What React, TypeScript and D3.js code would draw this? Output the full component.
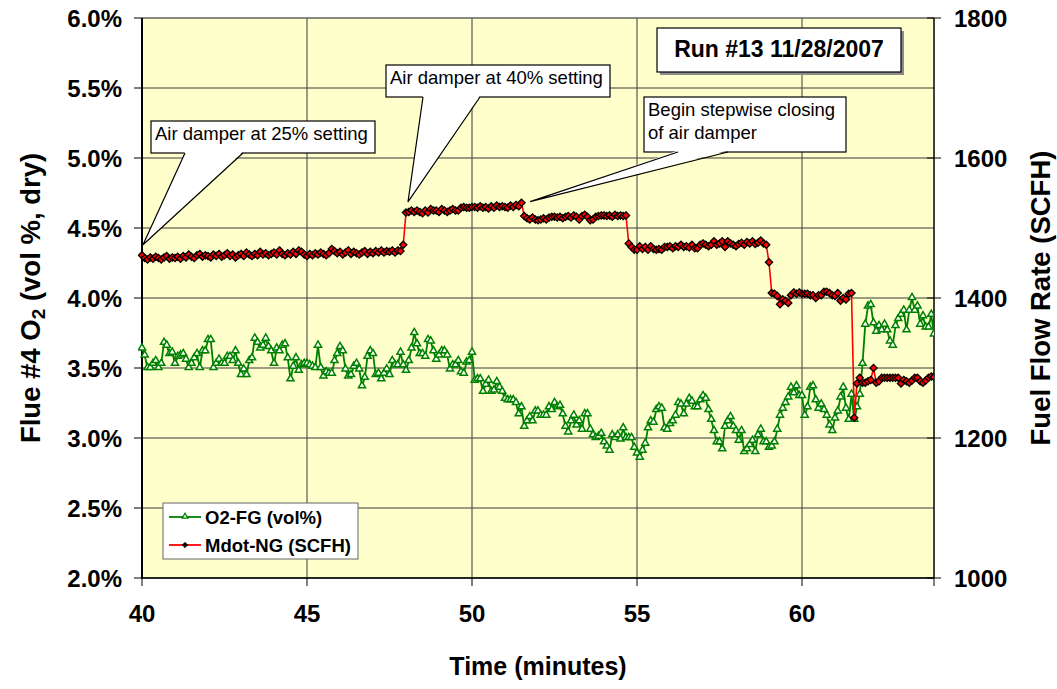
import React from "react";
import * as d3 from "d3";

// ---------- data ----------
const T_START = 40; // minutes
const T_STEP = 1 / 12; // 5-second samples

const O2_FG = [
  3.64, 3.59, 3.5, 3.5, 3.53, 3.55, 3.5, 3.53, 3.68, 3.66, 3.6, 3.61, 3.53, 3.58, 3.59, 3.6, 3.56, 3.5, 3.53, 3.57,
  3.6, 3.5, 3.62, 3.62, 3.7, 3.7, 3.5, 3.53, 3.56, 3.53, 3.53, 3.58, 3.58, 3.55, 3.62, 3.53, 3.45, 3.49, 3.45, 3.55,
  3.57, 3.71, 3.68, 3.64, 3.66, 3.71, 3.65, 3.62, 3.53, 3.64, 3.62, 3.66, 3.67, 3.57, 3.42, 3.51, 3.57, 3.48, 3.52, 3.53,
  3.53, 3.52, 3.51, 3.5, 3.66, 3.5, 3.44, 3.47,
  3.46, 3.46, 3.55, 3.6, 3.65, 3.62, 3.49, 3.44, 3.45, 3.51, 3.53, 3.49, 3.37, 3.43, 3.58, 3.62, 3.6, 3.45, 3.46, 3.42,
  3.46, 3.49, 3.45, 3.55, 3.52, 3.52, 3.61, 3.52, 3.48, 3.55, 3.64, 3.75, 3.67, 3.6, 3.6, 3.58, 3.7, 3.69, 3.62, 3.56,
  3.59, 3.62, 3.62, 3.59, 3.49, 3.52, 3.52, 3.55, 3.47, 3.46, 3.54, 3.55, 3.61, 3.41, 3.42, 3.42, 3.33, 3.38, 3.41, 3.33,
  3.34, 3.4, 3.36, 3.33, 3.28, 3.27, 3.27, 3.27, 3.25, 3.17, 3.22, 3.08,
  3.12, 3.15, 3.12, 3.19, 3.19, 3.16, 3.16, 3.16, 3.22, 3.2, 3.25, 3.22, 3.23, 3.17, 3.08, 3.04, 3.12, 3.16, 3.09, 3.12,
  3.06, 3.17, 3.17, 3.06, 3.02, 3.0, 3.01, 3.03, 2.97, 2.94, 2.91, 3.02, 3.0, 3.02, 2.99, 3.07, 3.0, 3.0, 3.0, 2.93,
  2.89, 2.86, 2.91, 2.96, 3.07, 3.12, 3.11, 3.2, 3.22, 3.21, 3.07, 3.06, 3.1, 3.12, 3.16, 3.25, 3.24, 3.17, 3.24, 3.28,
  3.26, 3.22, 3.22, 3.27, 3.3, 3.28, 3.2,
  3.13, 3.05, 2.97, 2.97, 2.92, 3.08, 3.12, 3.15, 3.08, 3.05, 2.98, 3.05, 2.9, 2.92, 2.95, 2.98, 2.9, 3.02, 3.06, 2.97,
  2.97, 2.93, 2.94, 2.97, 3.06, 3.16, 3.21, 3.25, 3.29, 3.36, 3.32, 3.37, 3.3, 3.3, 3.16, 3.22, 3.36, 3.37, 3.27, 3.21,
  3.24, 3.2, 3.16, 3.09, 3.05, 3.14, 3.19, 3.29, 3.36, 3.21, 3.13, 3.31, 3.13, 3.22, 3.31, 3.53, 3.81, 3.94, 3.95, 3.82,
  3.76, 3.8, 3.77, 3.81, 3.77, 3.69, 3.66, 3.8, 3.85, 3.88, 3.91, 3.77, 3.91, 4.0, 3.91, 3.94, 3.81, 3.87, 3.79, 3.79,
  3.88, 3.74, 3.95,
];

const MDOT_NG = [
  1461, 1457, 1455, 1458, 1456, 1459, 1457, 1455, 1458, 1460, 1456, 1458,
  1457, 1459, 1456, 1460, 1458, 1462, 1459, 1457, 1461, 1463, 1459, 1461,
  1460, 1458, 1462, 1460, 1463, 1459, 1461, 1464, 1460, 1462, 1458, 1461,
  1463, 1460, 1465, 1462, 1460, 1463, 1461, 1466, 1462, 1464, 1461, 1463,
  1465, 1462, 1468, 1463, 1461, 1464, 1462, 1466, 1463, 1468, 1466, 1462,
  1460, 1463, 1461, 1464, 1462, 1465, 1463, 1461, 1464, 1470, 1467, 1464,
  1466, 1462, 1465, 1468, 1463, 1466, 1464, 1462, 1465, 1467, 1463, 1466,
  1464, 1467, 1465, 1468, 1465, 1467, 1466, 1468, 1465, 1468, 1467, 1476,
  1522, 1523, 1525, 1523, 1525, 1523, 1521, 1525, 1522, 1527, 1525, 1525,
  1523, 1527, 1525, 1523, 1525, 1527, 1525, 1525, 1529, 1530, 1529, 1529,
  1530, 1530, 1529, 1531, 1529, 1530, 1528, 1531, 1529, 1532, 1530, 1531,
  1530, 1529, 1532, 1530, 1533, 1531, 1536,
  1517, 1514, 1512, 1515, 1512, 1511, 1512, 1514, 1512, 1515, 1516, 1516,
  1515, 1516, 1514, 1516, 1517, 1515, 1518, 1516, 1512, 1517, 1519, 1516,
  1511, 1512, 1516, 1517, 1518, 1518, 1517, 1518, 1516, 1519, 1517, 1518, 1517, 1518,
  1478,
  1473, 1469, 1469, 1474, 1470, 1473, 1469, 1474, 1470, 1469, 1470, 1469,
  1473, 1473, 1474, 1471, 1474, 1473, 1476, 1473, 1474, 1472, 1476, 1471,
  1471, 1476, 1478, 1476, 1474, 1476, 1481, 1476, 1478, 1481, 1473, 1481,
  1478, 1476, 1474, 1477, 1479, 1476, 1480, 1478, 1481, 1477, 1479, 1482, 1478, 1476,
  1451, 1407,
  1406, 1403, 1391, 1398, 1396, 1393, 1404, 1408, 1406, 1408, 1406, 1406,
  1406, 1404, 1404, 1400, 1404, 1404, 1409, 1409, 1407, 1404, 1403, 1407, 1396, 1400, 1398, 1406, 1407,
  1229, 1278,
  1286, 1279, 1279, 1281, 1283, 1300,
  1279, 1281, 1286, 1286, 1286, 1286, 1286, 1286, 1286, 1278, 1283, 1281, 1279, 1282, 1286, 1286, 1281, 1279,
  1282, 1286, 1288, 1287, 1286,
];

const X_TICKS = [40, 45, 50, 55, 60];
const LEFT_TICKS = [2.0, 2.5, 3.0, 3.5, 4.0, 4.5, 5.0, 5.5, 6.0];
const RIGHT_TICKS = [1000, 1200, 1400, 1600, 1800];
const SERIES_NAMES = ["O2-FG (vol%)", "Mdot-NG (SCFH)"];
const CHART_TITLE = "Run #13 11/28/2007";

// annotation tips in data units (time, O2 %)
const CALLOUTS = [
  { lines: ["Air damper at 25% setting"], tipT: 40.03, tipO2: 4.38, box: [151, 121, 224, 32], base: [185, 243] },
  { lines: ["Air damper at 40% setting"], tipT: 48.06, tipO2: 4.686, box: [386, 65, 224, 32], base: [423, 480] },
  { lines: ["Begin stepwise closing", "of air damper"], tipT: 51.76, tipO2: 4.688, box: [644, 97, 202, 55], base: [678, 728] },
];

// ---------- layout ----------
const W = 1057;
const H = 689;
const PL = 142;
const PR = 934;
const PT = 18;
const PB = 578;
const FONT = "'Liberation Sans', Arial, Helvetica, sans-serif";

export default function App() {
  const x = d3.scaleLinear().domain([40, 64]).range([PL, PR]);
  const yL = d3.scaleLinear().domain([2, 6]).range([PB, PT]);
  const yR = d3.scaleLinear().domain([1000, 1800]).range([PB, PT]);

  const o2Pts = O2_FG.map((v, i) => ({ t: T_START + i * T_STEP, v }));
  const mdPts = MDOT_NG.map((v, i) => ({ t: T_START + i * T_STEP, v }));

  const lineO2 = d3
    .line<{ t: number; v: number }>()
    .x((d) => x(d.t))
    .y((d) => yL(d.v));
  const lineMd = d3
    .line<{ t: number; v: number }>()
    .x((d) => x(d.t))
    .y((d) => yR(d.v));

  const tri = d3.symbol().type(d3.symbolTriangle).size(22)() as string;
  const diamond = "M0,-3.6L3.6,0L0,3.6L-3.6,0Z";

  const visible = (d: { t: number }) => d.t <= 64.001;

  return (
    <svg
      width={W}
      height={H}
      style={{ position: "absolute", left: 0, top: 0, background: "#fff" }}
      fontFamily={FONT}
    >
      <defs>
        <clipPath id="plotclip">
          <rect x={PL} y={PT} width={PR - PL} height={PB - PT} />
        </clipPath>
        <clipPath id="markclip">
          <rect x={PL - 4} y={PT} width={PR - PL + 4} height={PB - PT + 4} />
        </clipPath>
      </defs>

      {/* plot background */}
      <rect x={PL} y={PT} width={PR - PL} height={PB - PT} fill="#FFFFCC" />

      {/* gridlines */}
      {LEFT_TICKS.map((v) => (
        <line key={"hg" + v} x1={PL} x2={PR} y1={yL(v)} y2={yL(v)} stroke="#3a3a3a" strokeWidth={1.1} />
      ))}
      {X_TICKS.map((v) => (
        <line key={"vg" + v} x1={x(v)} x2={x(v)} y1={PT} y2={PB} stroke="#4a4a4a" strokeWidth={1.1} />
      ))}

      {/* plot border */}
      <line x1={PL} x2={PR} y1={PT} y2={PT} stroke="#777" strokeWidth={1} />
      <line x1={PR} x2={PR} y1={PT} y2={PB} stroke="#000" strokeWidth={1.5} />
      <line x1={PL} x2={PR} y1={PB} y2={PB} stroke="#000" strokeWidth={1.5} />
      <line x1={PL} x2={PL} y1={PT} y2={PB + 1} stroke="#000" strokeWidth={2} />

      {/* ticks */}
      {LEFT_TICKS.map((v) => (
        <line key={"lt" + v} x1={PL - 8} x2={PL} y1={yL(v)} y2={yL(v)} stroke="#000" strokeWidth={1} />
      ))}
      {X_TICKS.concat([64]).map((v) => (
        <line key={"xt" + v} x1={x(v)} x2={x(v)} y1={PB} y2={PB + 8} stroke="#000" strokeWidth={1} />
      ))}
      {RIGHT_TICKS.map((v) => (
        <line key={"rt" + v} x1={PR - 7} x2={PR + 7} y1={yR(v)} y2={yR(v)} stroke="#000" strokeWidth={1} />
      ))}

      {/* tick labels */}
      {LEFT_TICKS.map((v) => (
        <text key={"ll" + v} x={122} y={yL(v)} dy="0.36em" textAnchor="end" fontSize={24} fontWeight="bold">
          {v.toFixed(1) + "%"}
        </text>
      ))}
      {RIGHT_TICKS.map((v) => (
        <text key={"rl" + v} x={954} y={yR(v)} dy="0.36em" textAnchor="start" fontSize={24} fontWeight="bold">
          {String(v)}
        </text>
      ))}
      {X_TICKS.map((v) => (
        <text key={"xl" + v} x={x(v)} y={622} textAnchor="middle" fontSize={24} fontWeight="bold">
          {String(v)}
        </text>
      ))}

      {/* axis titles */}
      <text x={(PL + PR) / 2} y={675} textAnchor="middle" fontSize={25} fontWeight="bold">
        Time (minutes)
      </text>
      <text transform={`translate(40,${(PT + PB) / 2}) rotate(-90)`} textAnchor="middle" fontSize={27.5} fontWeight="bold">
        Flue #4 O
        <tspan fontSize={19} dy={5}>
          2
        </tspan>
        <tspan dy={-5}> (vol %, dry)</tspan>
      </text>
      <text transform={`translate(1050,${(PT + PB) / 2}) rotate(-90)`} textAnchor="middle" fontSize={27.5} fontWeight="bold">
        Fuel Flow Rate (SCFH)
      </text>

      {/* series */}
      <g clipPath="url(#plotclip)">
        <path d={lineO2(o2Pts) || ""} fill="none" stroke="#008000" strokeWidth={1.8} />
      </g>
      <g clipPath="url(#markclip)">
        {o2Pts.filter(visible).map((d, i) => (
          <path
            key={"o" + i}
            d={tri}
            transform={`translate(${x(d.t)},${yL(d.v) - 0.5})`}
            fill="#ffffff"
            stroke="#008000"
            strokeWidth={1.5}
          />
        ))}
      </g>
      <g clipPath="url(#plotclip)">
        <path d={lineMd(mdPts) || ""} fill="none" stroke="#FF0000" strokeWidth={1.6} />
      </g>
      <g clipPath="url(#markclip)">
        {mdPts.filter(visible).map((d, i) => (
          <path
            key={"m" + i}
            d={diamond}
            transform={`translate(${x(d.t)},${yR(d.v)})`}
            fill="#FF0000"
            stroke="#000"
            strokeWidth={1.3}
          />
        ))}
      </g>

      {/* callouts */}
      {CALLOUTS.map((c, i) => {
        const [bx, by, bw, bh] = c.box;
        const tx = x(c.tipT);
        const ty = yL(c.tipO2);
        const bottom = by + bh;
        return (
          <g key={"c" + i}>
            <rect x={bx} y={by} width={bw} height={bh} fill="#fff" stroke="#000" strokeWidth={1.2} />
            <polygon
              points={`${c.base[0]},${bottom - 1.5} ${tx},${ty} ${c.base[1]},${bottom - 1.5}`}
              fill="#fff"
              stroke="none"
            />
            <polyline
              points={`${c.base[0]},${bottom} ${tx},${ty} ${c.base[1]},${bottom}`}
              fill="none"
              stroke="#000"
              strokeWidth={1.2}
            />
            {c.lines.map((ln, j) => (
              <text key={j} x={bx + 4} y={by + 19 + j * 22.5} fontSize={18.5}>
                {ln}
              </text>
            ))}
          </g>
        );
      })}

      {/* title box */}
      <rect x={660} y={31} width={244} height={44} fill="#8c8c8c" />
      <rect x={657} y={28} width={244} height={44} fill="#fff" stroke="#000" strokeWidth={1.2} />
      <text x={779} y={57} textAnchor="middle" fontSize={23} fontWeight="bold">
        {CHART_TITLE}
      </text>

      {/* legend */}
      <rect x={163} y={503} width={195} height={56} fill="#fff" stroke="#666" strokeWidth={1} />
      <line x1={169} x2={201} y1={517} y2={517} stroke="#008000" strokeWidth={1.8} />
      <path d={d3.symbol().type(d3.symbolTriangle).size(14)() as string} transform="translate(185,516.5)" fill="#fff" stroke="#008000" strokeWidth={1.3} />
      <text x={205} y={523.5} fontSize={18.5} fontWeight="bold">
        {SERIES_NAMES[0]}
      </text>
      <line x1={169} x2={201} y1={545} y2={545} stroke="#FF0000" strokeWidth={1.8} />
      <path d="M0,-2.6L2.6,0L0,2.6L-2.6,0Z" transform="translate(185,545)" fill="#000" stroke="#000" strokeWidth={1} />
      <text x={205} y={551.5} fontSize={18.5} fontWeight="bold">
        {SERIES_NAMES[1]}
      </text>
    </svg>
  );
}
